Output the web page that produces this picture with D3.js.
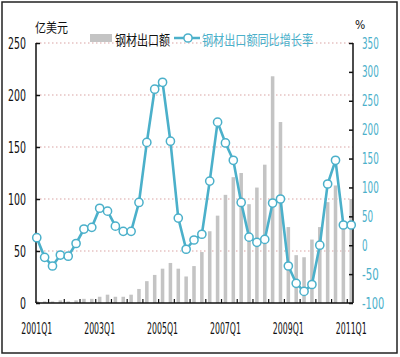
<!DOCTYPE html>
<html><head><meta charset="utf-8">
<script src="https://cdn.jsdelivr.net/npm/d3@7/dist/d3.min.js"></script>
<style>body{margin:0;background:#fff}svg{display:block}</style>
</head><body>
<svg id="c" width="400" height="357"></svg>
<script>
const quarters = [];
for (let y = 2001; y <= 2011; y++) for (let q = 1; q <= 4; q++) if (!(y === 2011 && q > 1)) quarters.push(y + "Q" + q);
const exportValue = [2,1.5,1.5,2.5,1.5,2.5,4,4,6,8,6,6,8,13.5,21,27,33,38.5,33,25.5,35.5,49,69,84,104,121,125,95,111,133,218,174,73,46,44,61,73,97,113,75,100];
const growthRate = [13,-21,-36,-17,-19,3,28,31,64,59,33,24,24,74,178,270,282,180,47,-7,9,19,111,213,177,147,74,14,5,10,73,80,-36,-66,-80,-68,0,106,147,35,35];
const leftTicks = [0,50,100,150,200,250];
const rightTicks = [-100,-50,0,50,100,150,200,250,300,350];
const xLabels = ["2001Q1","2003Q1","2005Q1","2007Q1","2009Q1","2011Q1"];
const legendNames = ["钢材出口额","钢材出口额同比增长率"];
const unitLeft = "亿美元", unitRight = "%";

const teal = "#4bb0ca", gray = "#c4c4c4";
const svg = d3.select("#c");
const L = 36, R = 353, T = 43, B = 303;
const x = d3.scaleBand().domain(quarters).range([35, 353]).paddingInner(0.55);
const xc = d => x(d) + x.bandwidth() / 2;
const yL = d3.scaleLinear().domain([0, 250]).range([B, T]);
const yR = d3.scaleLinear().domain([-100, 350]).range([B, T]);
const narrow = "Liberation Sans Narrow, DejaVu Sans Condensed, sans-serif";

// frame
svg.append("rect").attr("x", 2).attr("y", 2).attr("width", 395).attr("height", 351)
  .attr("fill", "none").attr("stroke", "#222").attr("stroke-width", 1.5);

// gridlines
svg.append("g").selectAll("line").data(leftTicks.filter(d => d > 0)).join("line")
  .attr("x1", L).attr("x2", R).attr("y1", d => yL(d)).attr("y2", d => yL(d))
  .attr("stroke", "#d9a3a3").attr("stroke-dasharray", "1.5,2.5").attr("stroke-width", 1);

// bars
svg.append("g").selectAll("rect").data(exportValue).join("rect")
  .attr("x", (d, i) => x(quarters[i])).attr("width", x.bandwidth())
  .attr("y", d => yL(d)).attr("height", d => B - yL(d)).attr("fill", gray);

// left axis
const gl = svg.append("g").attr("transform", `translate(${L},0)`)
  .call(d3.axisRight(yL).tickValues(leftTicks).tickSize(4).tickFormat(""));
gl.select(".domain").attr("stroke", "#111").attr("stroke-width", 1.5).attr("d", `M0,${T}V${B}`);
gl.selectAll(".tick line").attr("stroke", "#111").attr("stroke-width", 1.5);
svg.append("g").selectAll("text").data(leftTicks).join("text")
  .attr("x", 26).attr("y", d => yL(d) + 5.5).attr("text-anchor", "end")
  .attr("font-family", narrow).attr("font-size", 15).attr("fill", "#111")
  .attr("textLength", d => String(d).length * 6).attr("lengthAdjust", "spacingAndGlyphs")
  .text(d => d);

// right axis
const gr = svg.append("g").attr("transform", `translate(${R},0)`)
  .call(d3.axisLeft(yR).tickValues(rightTicks).tickSize(4).tickFormat(""));
gr.select(".domain").attr("stroke", "#111").attr("stroke-width", 1.5).attr("d", `M0,${T}V${B}`);
gr.selectAll(".tick line").attr("stroke", "#111").attr("stroke-width", 1.5);
svg.append("g").selectAll("text").data(rightTicks).join("text")
  .attr("x", 362).attr("y", d => yR(d) + 5.5).attr("text-anchor", "start")
  .attr("font-family", narrow).attr("font-size", 15).attr("fill", teal)
  .attr("textLength", d => String(d).length * 5.6).attr("lengthAdjust", "spacingAndGlyphs")
  .text(d => d);

// bottom axis
svg.append("line").attr("x1", L).attr("x2", R).attr("y1", B).attr("y2", B)
  .attr("stroke", "#111").attr("stroke-width", 1.5);
const tickIdx = d3.range(2, quarters.length, 2);
svg.append("g").selectAll("line").data(tickIdx).join("line")
  .attr("x1", i => x(quarters[i]) - x.step() * x.paddingInner() / 2)
  .attr("x2", i => x(quarters[i]) - x.step() * x.paddingInner() / 2)
  .attr("y1", B).attr("y2", B - 4).attr("stroke", "#111").attr("stroke-width", 1.2);
svg.append("g").selectAll("text").data(xLabels).join("text")
  .attr("x", d => xc(d)).attr("y", 334).attr("text-anchor", "middle")
  .attr("font-family", narrow).attr("font-size", 15).attr("fill", "#111")
  .attr("textLength", 31).attr("lengthAdjust", "spacingAndGlyphs")
  .text(d => d);

// line
const line = d3.line().x((d, i) => xc(quarters[i])).y(d => yR(d));
svg.append("path").datum(growthRate).attr("d", line)
  .attr("fill", "none").attr("stroke", teal).attr("stroke-width", 2.6);
svg.append("g").selectAll("circle").data(growthRate).join("circle")
  .attr("cx", (d, i) => xc(quarters[i])).attr("cy", d => yR(d)).attr("r", 4.1)
  .attr("fill", "#fff").attr("stroke", teal).attr("stroke-width", 1.5);

// units
const cjk = "Noto Sans CJK SC, sans-serif";
svg.append("text").attr("x", 35).attr("y", 32).attr("font-family", cjk).attr("font-size", 13)
  .attr("textLength", 33).attr("lengthAdjust", "spacingAndGlyphs").attr("fill", "#111").text(unitLeft);
svg.append("text").attr("x", 355).attr("y", 29).attr("font-family", narrow)
  .attr("font-size", 12).attr("fill", "#111").text(unitRight);

// legend
svg.append("rect").attr("x", 90).attr("y", 34).attr("width", 22).attr("height", 8).attr("fill", gray);
svg.append("text").attr("x", 115).attr("y", 45).attr("font-family", cjk).attr("font-size", 14)
  .attr("textLength", 55).attr("lengthAdjust", "spacingAndGlyphs").attr("fill", "#111").text(legendNames[0]);
svg.append("line").attr("x1", 174).attr("x2", 200).attr("y1", 38).attr("y2", 38)
  .attr("stroke", teal).attr("stroke-width", 2.5);
svg.append("circle").attr("cx", 188).attr("cy", 38).attr("r", 4.1)
  .attr("fill", "#fff").attr("stroke", teal).attr("stroke-width", 1.5);
svg.append("text").attr("x", 202).attr("y", 45).attr("font-family", cjk).attr("font-size", 14)
  .attr("textLength", 111).attr("lengthAdjust", "spacingAndGlyphs").attr("fill", teal).text(legendNames[1]);
</script>
</body></html>
